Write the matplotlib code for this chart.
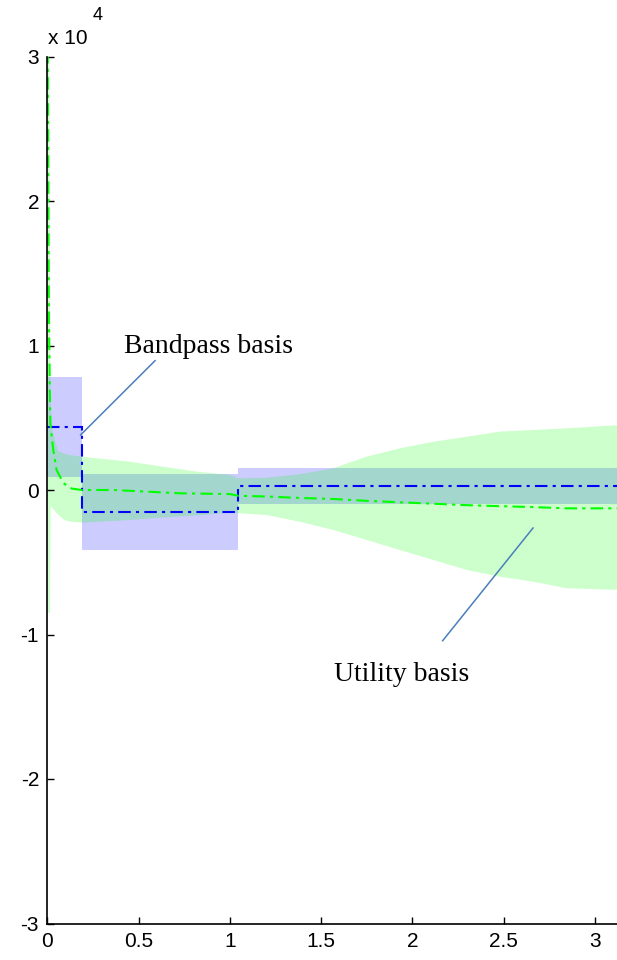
import numpy as np
import matplotlib
matplotlib.use('Agg')
import matplotlib.pyplot as plt

# ==============================
# Data (y values in units of 1e4)
# ==============================
# bandpass basis: piecewise constant estimate with confidence band
band_edges = [0.0, 0.19, 1.046, np.pi]
band_level = [0.436, -0.152, 0.028]
band_upper = [0.78, 0.11, 0.15]
band_lower = [0.09, -0.415, -0.097]

# utility basis: smooth estimate with confidence band
util_x = [0.0, 0.008, 0.016, 0.032, 0.05, 0.07, 0.087, 0.11, 0.133, 0.19, 0.36, 0.54,
          0.73, 1.0, 1.046, 1.2, 1.385, 1.567, 1.75, 1.93, 2.115, 2.3, 2.48, 2.66,
          2.845, np.pi]
util_y = [3.5, 1.2, 0.46, 0.28, 0.14, 0.09, 0.05, 0.025, 0.01, 0.0, 0.0, -0.011,
          -0.023, -0.028, -0.04, -0.045, -0.055, -0.062, -0.075, -0.085, -0.095, -0.105,
          -0.112, -0.118, -0.127, -0.127]

util_band_x = [0.0, 0.014, 0.018, 0.03, 0.058, 0.095, 0.13, 0.19, 0.45, 0.635, 0.82,
               1.0, 1.046, 1.2, 1.385, 1.567, 1.75, 1.93, 2.115, 2.3, 2.48, 2.66,
               2.845, np.pi]
util_upper = [8.0, 1.5, 0.6, 0.4, 0.27, 0.25, 0.24, 0.23, 0.196, 0.161, 0.127, 0.104,
              0.08, 0.085, 0.11, 0.15, 0.231, 0.288, 0.334, 0.369, 0.404, 0.415,
              0.427, 0.45]
util_lower = [-0.85, -0.85, -0.11, -0.13, -0.17, -0.21, -0.22, -0.226, -0.208, -0.19,
              -0.175, -0.157, -0.161, -0.173, -0.22, -0.277, -0.346, -0.415, -0.484,
              -0.554, -0.6, -0.634, -0.68, -0.692]

x_ticks = [0, 0.5, 1, 1.5, 2, 2.5, 3]
x_ticklabels = ['0', '0.5', '1', '1.5', '2', '2.5', '3']
y_ticks = [-3, -2, -1, 0, 1, 2, 3]
y_ticklabels = ['-3', '-2', '-1', '0', '1', '2', '3']

# ==============================
# Plot
# ==============================
plt.rcParams['font.family'] = ['Liberation Sans', 'DejaVu Sans']

fig = plt.figure(figsize=(6.17, 9.6), dpi=100)
ax = fig.add_axes([47.4 / 617, 36.5 / 960, (620.7 - 47.4) / 617, 867 / 960])

dashdot = (0, (6, 2.5, 1.5, 2.5))

# blue band first, green band blended on top
ax.fill_between(band_edges, band_upper + [band_upper[-1]], band_lower + [band_lower[-1]],
                step='post', color=(0, 0, 1), alpha=0.2, linewidth=0)
ax.fill_between(util_band_x, util_upper, util_lower, color=(0, 1, 0), alpha=0.2, linewidth=0)

ax.stairs(band_level, band_edges, baseline=None, color=(0, 0, 1), lw=1.5, linestyle=dashdot)
ax.plot(util_x, util_y, color=(0, 1, 0), lw=1.5, linestyle=dashdot)

ax.set_xlim(0, np.pi)
ax.set_ylim(-3, 3)
ax.set_xticks(x_ticks)
ax.set_xticklabels(x_ticklabels)
ax.set_yticks(y_ticks)
ax.set_yticklabels(y_ticklabels)
ax.tick_params(direction='in', length=5, width=1, labelsize=15, pad=6)
ax.spines['top'].set_visible(False)
ax.spines['right'].set_visible(False)
ax.spines['left'].set_linewidth(1.2)
ax.spines['bottom'].set_linewidth(1.2)

# exponent label
fig.text(48 / 617, 1 - 38 / 960, 'x 10', fontsize=15, ha='left', va='center')
fig.text(93 / 617, 1 - 16 / 960, '4', fontsize=13, ha='left', va='center')

# annotations
ann_color = '#4a7ebb'
ax.plot([0.590, 0.182], [0.895, 0.381], color=ann_color, lw=1.1, clip_on=False)
ax.plot([2.166, 2.661], [-1.043, -0.263], color=ann_color, lw=1.1, clip_on=False)
ax.text(0.881, 0.99, 'Bandpass basis', fontsize=20, family=['Liberation Serif'],
        ha='center', va='center')
ax.text(1.941, -1.28, 'Utility basis', fontsize=20, family=['Liberation Serif'],
        ha='center', va='center')

plt.savefig('out.png', dpi=100)
